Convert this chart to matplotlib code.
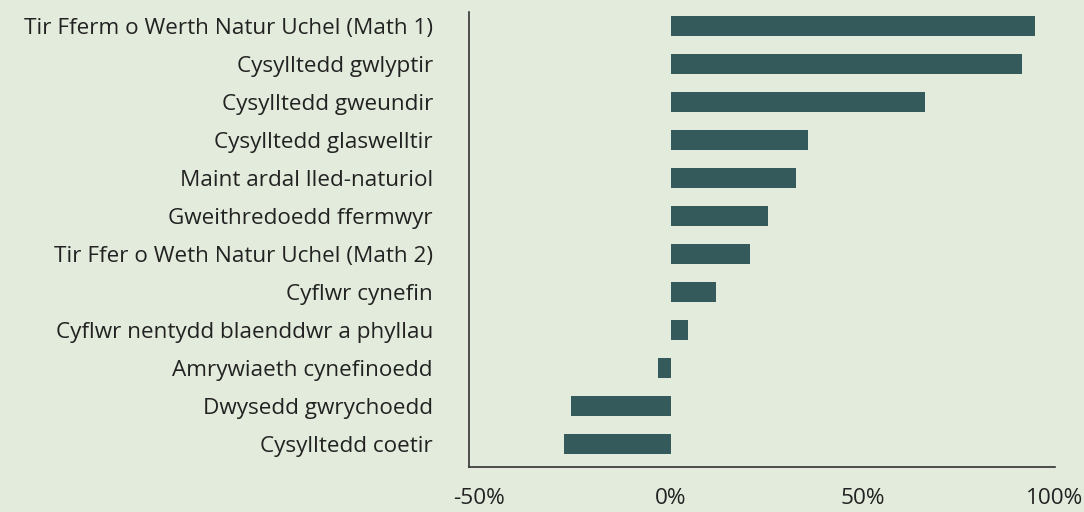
import matplotlib.pyplot as plt

labels = ["Tir Fferm o Werth Natur Uchel (Math 1)", "Cysylltedd gwlyptir",
          "Cysylltedd gweundir", "Cysylltedd glaswelltir",
          "Maint ardal lled-naturiol", "Gweithredoedd ffermwyr",
          "Tir Ffer o Weth Natur Uchel (Math 2)", "Cyflwr cynefin",
          "Cyflwr nentydd blaenddwr a phyllau", "Amrywiaeth cynefinoedd",
          "Dwysedd gwrychoedd", "Cysylltedd coetir"]
values = [94.8, 91.3, 66.1, 35.6, 32.5, 25.4, 20.5, 11.9, 4.6, -3.2, -26.0, -27.8]
ticks = [-50, 0, 50, 100]
tick_labels = ["-50%", "0%", "50%", "100%"]

bg = "#e3ecdc"
bar_col = "#345a5b"
txt = "#222222"

plt.rcParams['font.family'] = ['Open Sans', 'DejaVu Sans']

fig = plt.figure(figsize=(10.84, 5.12), dpi=100, facecolor=bg)
ax = fig.add_axes([469/1084, 1-467/512, (1055-469)/1084, (467-12)/512])
ax.set_facecolor(bg)

pos = list(range(len(labels)))
ax.barh(pos, values, height=0.52, color=bar_col)
ax.set_ylim(len(labels) - 0.4, -0.37)
ax.set_xlim(-52.5, 100)

ax.set_yticks(pos)
ax.set_yticklabels(labels, fontsize=16.2, color=txt)
ax.set_xticks(ticks)
ax.set_xticklabels(tick_labels, fontsize=16.2, color=txt)
ax.tick_params(axis='y', length=0, pad=26)
ax.tick_params(axis='x', length=0, pad=15)

for s in ['top', 'right']:
    ax.spines[s].set_visible(False)
for s in ['left', 'bottom']:
    ax.spines[s].set_color("#333333")
    ax.spines[s].set_linewidth(1.2)

fig.savefig("out.png", dpi=100, facecolor=bg)
